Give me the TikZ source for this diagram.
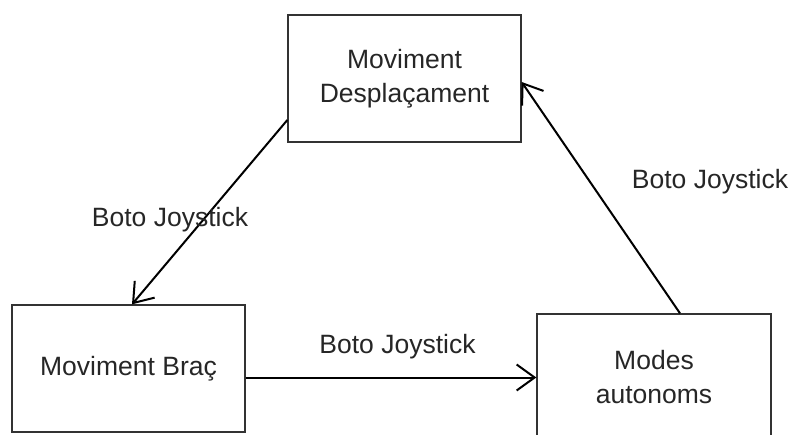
\documentclass[tikz,border=0pt]{standalone}
\usepackage{fontspec}
\setmainfont{Liberation Sans}
\usetikzlibrary{arrows.meta}
\begin{document}
\begin{tikzpicture}[x=1pt,y=-1pt,
  statebox/.style={draw=black!80,line width=1.3pt,minimum width=233pt,minimum height=127pt,
    align=center,inner sep=0pt,text=black!85,font=\fontsize{26.5}{34}\selectfont},
  edgelabel/.style={anchor=base,inner sep=0pt,text=black!85,font=\fontsize{26.5}{34}\selectfont},
  transition/.style={draw=black,line width=2pt,-{Straight Barb[length=18pt,width=26pt,line width=2pt]}}]
  \clip (0,0) rectangle (792,435);
  \useasboundingbox (0,0) rectangle (792,435);

  % the three operating modes
  \node[statebox] (desp) at (404.5,78.5) {Moviment\\Desplaçament};
  \node[statebox] (brac) at (128.5,368.5) {Moviment Braç};
  \node[statebox,minimum width=234pt] (auto) at (654,377.5) {Modes\\autonoms};

  % transitions triggered by the joystick button
  \draw[transition] ([yshift=-41.5pt]desp.west) -- ([xshift=3.5pt]brac.north);
  \draw[transition] (brac.east |- auto.west) -- (auto.west);
  \draw[transition] ([xshift=26pt]auto.north) -- ([yshift=-3.5pt]desp.east);

  \node[edgelabel] (l1) at (170,227) {Boto Joystick};
  \node[edgelabel] (l2) at (397.5,353) {Boto Joystick};
  \node[edgelabel] (l3) at (710,189) {Boto Joystick};
\end{tikzpicture}
\end{document}
